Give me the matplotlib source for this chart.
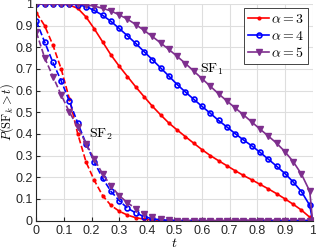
import matplotlib
matplotlib.use("Agg")
from matplotlib import pyplot as plt

plt.rcParams["font.family"] = ["Liberation Sans", "DejaVu Sans"]
plt.rcParams["mathtext.fontset"] = "cm"

# time grid (marker positions)
t = [0.00, 0.03, 0.06, 0.09, 0.12, 0.15, 0.18, 0.21, 0.24, 0.27, 0.30, 0.33,
     0.36, 0.39, 0.42, 0.45, 0.48, 0.51, 0.54, 0.57, 0.60, 0.63, 0.66, 0.69,
     0.72, 0.75, 0.78, 0.81, 0.84, 0.87, 0.90, 0.93, 0.96, 0.99, 1.00]

# SF1 (solid)
sf1_a3 = [1.000, 1.000, 1.000, 1.000, 0.995, 0.980, 0.940, 0.885, 0.825, 0.765,
          0.713, 0.665, 0.617, 0.572, 0.528, 0.488, 0.450, 0.418, 0.387, 0.357,
          0.327, 0.300, 0.276, 0.253, 0.230, 0.208, 0.188, 0.167, 0.146, 0.124,
          0.100, 0.075, 0.048, 0.015, 0.000]
sf1_a4 = [1.000, 1.000, 1.000, 1.000, 1.000, 0.997, 0.988, 0.970, 0.948, 0.920,
          0.887, 0.853, 0.818, 0.780, 0.743, 0.705, 0.667, 0.628, 0.593, 0.560,
          0.527, 0.495, 0.462, 0.432, 0.401, 0.372, 0.345, 0.315, 0.283, 0.251,
          0.217, 0.178, 0.133, 0.070, 0.000]
sf1_a5 = [1.000, 1.000, 1.000, 1.000, 1.000, 1.000, 0.996, 0.990, 0.980, 0.968,
          0.950, 0.930, 0.905, 0.878, 0.850, 0.820, 0.790, 0.758, 0.725, 0.690,
          0.655, 0.620, 0.585, 0.552, 0.520, 0.488, 0.455, 0.422, 0.390, 0.357,
          0.318, 0.272, 0.214, 0.135, 0.000]

# SF2 (dashed)
sf2_a3 = [0.960, 0.900, 0.810, 0.700, 0.560, 0.400, 0.270, 0.185, 0.115, 0.070,
          0.043, 0.025, 0.013, 0.006, 0.002, 0.000, 0.000, 0.000, 0.000, 0.000,
          0.000, 0.000, 0.000, 0.000, 0.000, 0.000, 0.000, 0.000, 0.000, 0.000,
          0.000, 0.000, 0.000, 0.000, 0.000]
sf2_a4 = [0.920, 0.825, 0.730, 0.645, 0.550, 0.450, 0.355, 0.270, 0.195, 0.135,
          0.092, 0.057, 0.035, 0.018, 0.008, 0.003, 0.001, 0.000, 0.000, 0.000,
          0.000, 0.000, 0.000, 0.000, 0.000, 0.000, 0.000, 0.000, 0.000, 0.000,
          0.000, 0.000, 0.000, 0.000, 0.000]
sf2_a5 = [0.870, 0.752, 0.665, 0.580, 0.500, 0.432, 0.355, 0.283, 0.215, 0.160,
          0.115, 0.082, 0.055, 0.032, 0.017, 0.007, 0.002, 0.000, 0.000, 0.000,
          0.000, 0.000, 0.000, 0.000, 0.000, 0.000, 0.000, 0.000, 0.000, 0.000,
          0.000, 0.000, 0.000, 0.000, 0.000]

alphas = [3, 4, 5]
ticks = [0, 0.1, 0.2, 0.3, 0.4, 0.5, 0.6, 0.7, 0.8, 0.9, 1]
tick_labels = ["0", "0.1", "0.2", "0.3", "0.4", "0.5", "0.6", "0.7", "0.8", "0.9", "1"]

styles = [
    dict(color="#FF0000", marker=".", markersize=4),
    dict(color="#0000FF", marker="o", markersize=3.5, markerfacecolor="none", markeredgewidth=1.2),
    dict(color="#7E2F8E", marker="v", markersize=4.5),
]

fig = plt.figure(figsize=(3.16, 2.5), dpi=100)
ax = fig.add_axes([0.115, 0.118, 0.874, 0.866])

handles = []
for alpha, sf1, sf2, st in zip(alphas, [sf1_a3, sf1_a4, sf1_a5],
                               [sf2_a3, sf2_a4, sf2_a5], styles):
    h, = ax.plot(t, sf1, linestyle="-", linewidth=1.2, label=r"$\alpha = %d$" % alpha, **st)
    ax.plot(t, sf2, linestyle="--", linewidth=1.2, **st)
    handles.append(h)

ax.text(0.634, 0.696, r"$\mathrm{SF}_1$", fontsize=10, ha="center", va="center")
ax.text(0.233, 0.396, r"$\mathrm{SF}_2$", fontsize=10, ha="center", va="center")

ax.set_xlim(0, 1)
ax.set_ylim(0, 1)
ax.set_xticks(ticks)
ax.set_xticklabels(tick_labels)
ax.set_yticks(ticks)
ax.set_yticklabels(tick_labels)
ax.tick_params(direction="in", labelsize=9, length=3, color="#262626", labelcolor="#262626")
ax.tick_params(axis="y", pad=2.5)
ax.grid(True, color="#dedede", linewidth=0.8)
ax.set_axisbelow(True)
ax.spines["top"].set_visible(False)
ax.spines["right"].set_visible(False)
ax.spines["left"].set_color("#262626")
ax.spines["bottom"].set_color("#262626")

ax.set_xlabel(r"$t$", fontsize=10, labelpad=-1)
ax.set_ylabel(r"$P(\mathrm{SF}_k > t)$", fontsize=9, va="center")
ax.yaxis.set_label_coords(-0.105, 0.5)

leg = ax.legend(handles=handles, loc="upper right", fontsize=10, frameon=True,
                fancybox=False, edgecolor="#262626", framealpha=1,
                handlelength=1.5, handletextpad=0.15, borderpad=0.3,
                labelspacing=0.2, borderaxespad=0.3)
leg.get_frame().set_linewidth(0.6)

fig.savefig("out.png", dpi=100)
